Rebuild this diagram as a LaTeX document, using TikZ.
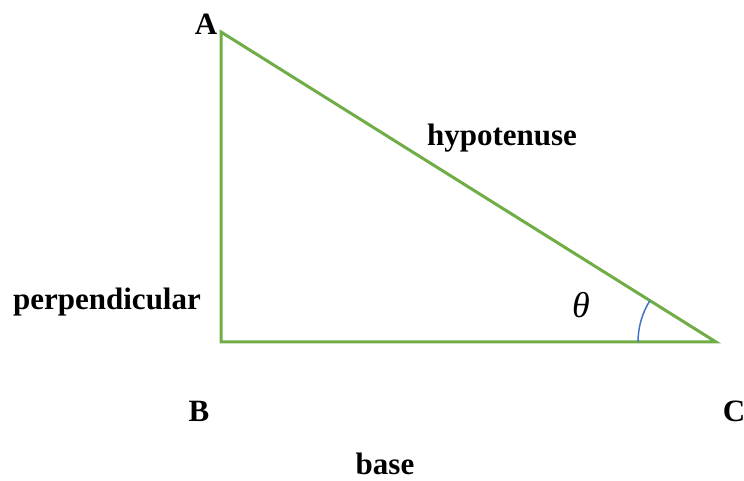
\documentclass[tikz,border=0pt]{standalone}
\usepackage{fontspec}
\setmainfont{Liberation Serif}
\usetikzlibrary{positioning}

\definecolor{sidegreen}{RGB}{112,173,71}
\definecolor{arcblue}{RGB}{68,114,196}

\tikzstyle{side} = [line width=3pt, draw=sidegreen, line join=miter]
\tikzstyle{angarc} = [line width=1.5pt, draw=arcblue]
\tikzstyle{label} = [inner sep=0pt, anchor=base, font=\fontsize{31}{36}\selectfont\bfseries]

\begin{document}
\begin{tikzpicture}[x=1pt, y=1pt]
\useasboundingbox (0,0) rectangle (744,481);

% Vertices
\coordinate (A) at (221,449);
\coordinate (B) at (221,139);
\coordinate (C) at (716,139);

% Triangle
\draw [side] (A) -- (B) -- (C) -- cycle;
\draw [angarc] ([xshift=-78pt]C) arc (180:148:78);

% Labels
\node (labelA) [label] at (206,446) {A};
\node (labelB) [label] at (199,59) {B};
\node (labelC) [label] at (734,59) {C};
\node (hyp) [label] at (502,335) {hypotenuse};
\node (perp) [label] at (107,171) {perpendicular};
\node (base) [label] at (385,6) {base};
\node (theta) [inner sep=0pt, font=\fontsize{36}{40}\selectfont\itshape] at (581,176) {θ};

\end{tikzpicture}
\end{document}
